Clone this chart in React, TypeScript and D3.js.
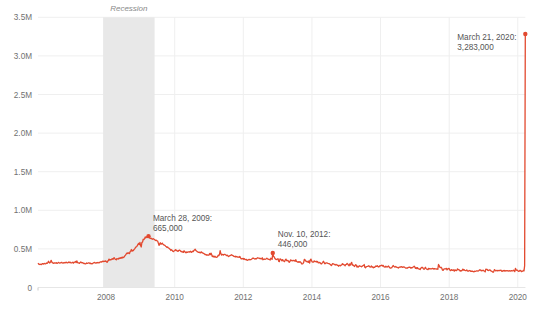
import React from "react";
import * as d3 from "d3";

// Weekly initial jobless claims (thousands), seasonally adjusted, weeks ending Saturday
const START_WEEK = "2006-01-07";
const y2006 = [
  315, 305, 298, 302, 300, 296, 305, 310, 303, 308, 312, 305, 310,
  318, 312, 322, 340, 325, 318, 330, 352, 330, 320, 318, 312, 320,
  318, 315, 322, 312, 318, 325, 320, 315, 318, 322, 326, 318, 315,
  322, 318, 325, 320, 328, 322, 318, 325, 330, 322, 328, 320, 318,
];
const y2007 = [
  322, 328, 315, 325, 330, 338, 322, 345, 325, 318, 320, 312, 322,
  330, 325, 318, 322, 315, 310, 312, 305, 310, 318, 312, 315, 320,
  318, 310, 315, 308, 305, 312, 318, 320, 325, 318, 315, 322, 318,
  325, 320, 318, 328, 330, 335, 328, 338, 342, 335, 340, 338, 345,
];
const y2008 = [
  335, 325, 340, 350, 368, 355, 362, 358, 368, 372, 365, 380, 385,
  370, 365, 358, 375, 372, 368, 380, 375, 385, 378, 390, 382, 395,
  388, 395, 410, 420, 432, 445, 440, 450, 445, 438, 462, 475, 492,
  470, 480, 478, 492, 500, 515, 525, 532, 540, 560, 572, 555, 585,
];
const y2009 = [
  545, 525, 585, 588, 625, 622, 630, 655, 645, 652, 658, 650, 665,
  652, 640, 635, 640, 630, 625, 632, 628, 620, 615, 608, 612, 605,
  600, 575, 545, 565, 580, 560, 565, 575, 560, 555, 548, 545, 535,
  530, 520, 525, 515, 510, 500, 495, 480, 490, 480, 470, 465, 475,
];
const y2010 = [
  480, 490, 478, 482, 470, 468, 480, 485, 478, 470, 462, 468, 458,
  455, 475, 470, 455, 450, 460, 455, 460, 462, 458, 465, 470, 455,
  460, 470, 465, 478, 485, 495, 480, 475, 465, 460, 455, 458, 452,
  450, 462, 455, 448, 445, 440, 435, 425, 430, 420, 425, 420, 418,
];
const y2011 = [
  420, 440, 425, 445, 430, 400, 410, 398, 395, 405, 395, 390, 392,
  402, 418, 412, 430, 478, 440, 420, 425, 428, 420, 430, 428, 425,
  420, 412, 418, 408, 400, 410, 412, 418, 425, 420, 415, 410, 402,
  400, 405, 395, 402, 398, 392, 395, 390, 402, 385, 372, 375, 372, 378,
];
const y2012 = [
  365, 372, 362, 360, 365, 352, 355, 360, 365, 358, 362, 362, 368,
  375, 382, 378, 372, 368, 375, 370, 378, 385, 382, 380, 375, 378,
  372, 370, 385, 360, 365, 370, 365, 368, 372, 380, 370, 368, 365,
  365, 355, 380, 372, 365, 446, 405, 398, 380, 368, 362, 365, 370,
];
const y2013 = [
  372, 340, 335, 370, 368, 358, 345, 362, 348, 340, 335, 358, 368,
  350, 345, 352, 340, 325, 335, 358, 348, 352, 345, 348, 352, 345,
  340, 360, 338, 335, 328, 335, 325, 335, 330, 322, 305, 305, 312,
  325, 365, 358, 345, 335, 340, 332, 325, 345, 315, 355, 368, 345,
];
const y2014 = [
  332, 328, 330, 345, 335, 335, 340, 330, 338, 322, 318, 325, 320,
  310, 305, 315, 325, 340, 325, 308, 310, 320, 318, 315, 312, 310,
  308, 302, 295, 285, 295, 308, 305, 302, 298, 290, 300, 295, 288,
  290, 275, 285, 288, 280, 290, 295, 308, 298, 298, 290, 282, 295,
];
const y2015 = [
  298, 312, 305, 290, 282, 305, 290, 312, 325, 290, 292, 285, 272,
  282, 295, 290, 265, 275, 265, 275, 282, 278, 275, 268, 275, 282,
  285, 298, 262, 255, 268, 272, 275, 278, 282, 270, 265, 268, 278,
  265, 268, 255, 262, 260, 276, 278, 275, 282, 270, 265, 270, 282,
];
const y2016 = [
  280, 285, 290, 278, 285, 270, 265, 265, 275, 268, 265, 272, 278,
  265, 255, 252, 255, 258, 272, 285, 275, 268, 265, 272, 265, 262,
  258, 252, 262, 265, 268, 265, 270, 262, 265, 268, 265, 258, 252,
  250, 255, 252, 260, 262, 265, 262, 250, 258, 255, 262, 268, 275, 265,
];
const y2017 = [
  247, 258, 245, 258, 245, 242, 238, 232, 248, 255, 262, 258, 242,
  235, 245, 262, 248, 238, 235, 232, 248, 242, 245, 242, 240, 245,
  248, 245, 238, 245, 242, 240, 238, 242, 236, 298, 285, 262, 258,
  262, 250, 228, 222, 235, 242, 240, 242, 248, 228, 238, 245, 248,
];
const y2018 = [
  232, 218, 225, 232, 222, 225, 228, 212, 228, 225, 218, 225, 242,
  232, 230, 225, 212, 218, 215, 222, 238, 225, 232, 222, 220, 218,
  228, 215, 210, 215, 220, 218, 210, 212, 208, 212, 205, 202, 212,
  210, 212, 215, 215, 212, 218, 225, 230, 225, 215, 222, 218, 225,
];
const y2019 = [
  218, 212, 202, 238, 235, 235, 222, 220, 225, 228, 222, 212, 212,
  205, 198, 205, 232, 225, 215, 218, 222, 215, 220, 222, 218, 222,
  225, 212, 208, 218, 215, 222, 212, 218, 215, 218, 218, 212, 215,
  218, 212, 215, 218, 215, 215, 225, 218, 205, 248, 230, 222, 225,
];
const y2020 = [214, 208, 215, 222, 218, 205, 210, 212, 220, 215, 282, 3283];

const weeklyClaimsK = [
  ...y2006, ...y2007, ...y2008, ...y2009, ...y2010, ...y2011, ...y2012,
  ...y2013, ...y2014, ...y2015, ...y2016, ...y2017, ...y2018, ...y2019, ...y2020,
];

const yTicks = [0, 500000, 1000000, 1500000, 2000000, 2500000, 3000000, 3500000];
const yTickLabels = ["0", "0.5M", "1.0M", "1.5M", "2.0M", "2.5M", "3.0M", "3.5M"];
const xTickYears = [2008, 2010, 2012, 2014, 2016, 2018, 2020];

const recessionStart = "2007-12-01";
const recessionEnd = "2009-06-01";
const recessionLabel = "Recession";

const annDates = ["2009-03-28", "2012-11-10", "2020-03-21"];
const annValues = [665000, 446000, 3283000];
const annLines = [
  ["March 28, 2009:", "665,000"],
  ["Nov. 10, 2012:", "446,000"],
  ["March 21, 2020:", "3,283,000"],
];

const parse = d3.timeParse("%Y-%m-%d");

export default function App() {
  const W = 545, H = 312;
  const left = 38, right = 525.3, top = 17.3, bottom = 287.5;
  const start = parse(START_WEEK) as Date;
  const data = weeklyClaimsK.map((v, i) => ({ date: d3.timeWeek.offset(start, i), value: v * 1000 }));
  const x = d3.scaleTime().domain([start, data[data.length - 1].date]).range([left, right]);
  const y = d3.scaleLinear().domain([0, 3500000]).range([bottom, top]);
  const line = d3.line<{ date: Date; value: number }>().x((d) => x(d.date)).y((d) => y(d.value));
  const font = "'Liberation Sans', Arial, Helvetica, sans-serif";
  const red = "#e2492f";
  const annOffsets = [
    { dx: 4.5, dy: [-15.5, -5], anchor: "start" },
    { dx: 5, dy: [-16, -6.5], anchor: "start" },
    { dx: -68, dy: [6, 16], anchor: "start" },
  ];
  const rx0 = x(parse(recessionStart) as Date);
  const rx1 = x(parse(recessionEnd) as Date);
  return (
    <svg width={W} height={H} style={{ position: "absolute", left: 0, top: 0 }} fontFamily={font}>
      <rect x={0} y={0} width={W} height={H} fill="#fff" />
      {yTicks.map((t) => (
        <line key={"gy" + t} x1={left} x2={right} y1={y(t)} y2={y(t)} stroke="#efefef" strokeWidth={1} />
      ))}
      {xTickYears.map((yr) => {
        const xx = x(new Date(yr, 0, 1));
        return <line key={"gx" + yr} x1={xx} x2={xx} y1={top} y2={bottom} stroke="#efefef" strokeWidth={1} />;
      })}
      <rect x={rx0} y={top} width={rx1 - rx0} height={bottom - top} fill="#e8e8e8" />
      <text x={(rx0 + rx1) / 2} y={10.5} textAnchor="middle" fontSize={8} fontStyle="italic" fill="#8a8a8a">
        {recessionLabel}
      </text>
      <line x1={left} x2={right} y1={bottom} y2={bottom} stroke="#e6e6e6" strokeWidth={1} />
      <line x1={left} x2={left} y1={bottom} y2={bottom + 3} stroke="#cccccc" strokeWidth={1} />
      {yTicks.map((t, i) => (
        <text key={"ly" + t} x={32} y={y(t) + 3} textAnchor="end" fontSize={8.2} fill="#707070">
          {yTickLabels[i]}
        </text>
      ))}
      {xTickYears.map((yr) => (
        <text key={"lx" + yr} x={x(new Date(yr, 0, 1))} y={299.5} textAnchor="middle" fontSize={8.2} fill="#707070">
          {yr}
        </text>
      ))}
      <path d={line(data) || ""} fill="none" stroke={red} strokeWidth={1.3} strokeLinejoin="round" />
      {annDates.map((ds, i) => {
        const cx = x(parse(ds) as Date);
        const cy = y(annValues[i]);
        const o = annOffsets[i];
        return (
          <g key={"ann" + i}>
            <circle cx={cx} cy={cy} r={2.2} fill={red} />
            {annLines[i].map((t, j) => (
              <text key={j} x={cx + o.dx} y={cy + o.dy[j]} fontSize={8.2} fill="#555">
                {t}
              </text>
            ))}
          </g>
        );
      })}
      {weeklyClaimsK.length !== 742 && (
        <text x={200} y={150} fill="blue" fontSize={20}>{"COUNT " + weeklyClaimsK.length}</text>
      )}
    </svg>
  );
}
